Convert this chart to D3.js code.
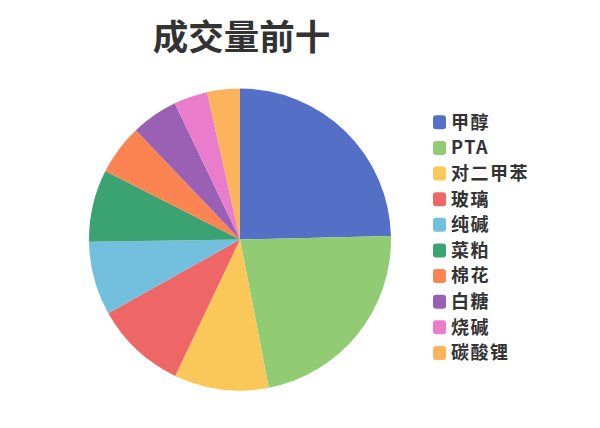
<!DOCTYPE html>
<html>
<head>
<meta charset="utf-8">
<script src="https://cdn.jsdelivr.net/npm/d3@7"></script>
<style>
  body { margin: 0; background: #fff; }
  svg { display: block; font-family: "Noto Sans CJK SC", "Noto Sans", sans-serif; }
</style>
</head>
<body>
<svg id="chart" width="600" height="428"></svg>
<script>
// commodity names, top ten by volume
const names = ["甲醇", "PTA", "对二甲苯", "玻璃", "纯碱", "菜粕", "棉花", "白糖", "烧碱", "碳酸锂"];
// volumes
const volumes = [246, 223, 101, 98, 79, 77, 54, 50, 36, 35];
const colors = ["#5470c6", "#91cc75", "#fac858", "#ee6666", "#73c0de",
                "#3ba272", "#fc8452", "#9a60b4", "#ea7ccc", "#fcb35b"];

const svg = d3.select("#chart");

svg.append("text")
  .attr("x", 241.5)
  .attr("y", 50)
  .attr("text-anchor", "middle")
  .attr("font-size", 35.5)
  .attr("font-weight", "bold")
  .attr("fill", "#333")
  .text("成交量前十");

const data = names.map((n, i) => ({ name: n, value: volumes[i] }));

const pie = d3.pie().sort(null).value((d) => d.value);
const arc = d3.arc().innerRadius(0).outerRadius(151);

const color = d3.scaleOrdinal().domain(names).range(colors);

svg.append("g")
  .attr("transform", "translate(240,239.5)")
  .selectAll("path")
  .data(pie(data))
  .join("path")
  .attr("d", arc)
  .attr("fill", (d) => color(d.data.name));

// legend on the right
const y = d3.scalePoint().domain(names).range([122.3, 353]);

const legend = svg.append("g")
  .selectAll("g")
  .data(names)
  .join("g")
  .attr("transform", (d) => `translate(433,${y(d)})`);

legend.append("rect")
  .attr("x", 0)
  .attr("y", -7)
  .attr("width", 13)
  .attr("height", 14)
  .attr("rx", 3)
  .attr("fill", (d) => color(d));

legend.append("text")
  .attr("x", 18)
  .attr("y", 0)
  .attr("dy", "0.35em")
  .attr("font-size", 18)
  .attr("letter-spacing", 1.5)
  .attr("font-weight", "bold")
  .attr("fill", "#333")
  .text((d) => d);
</script>
</body>
</html>
